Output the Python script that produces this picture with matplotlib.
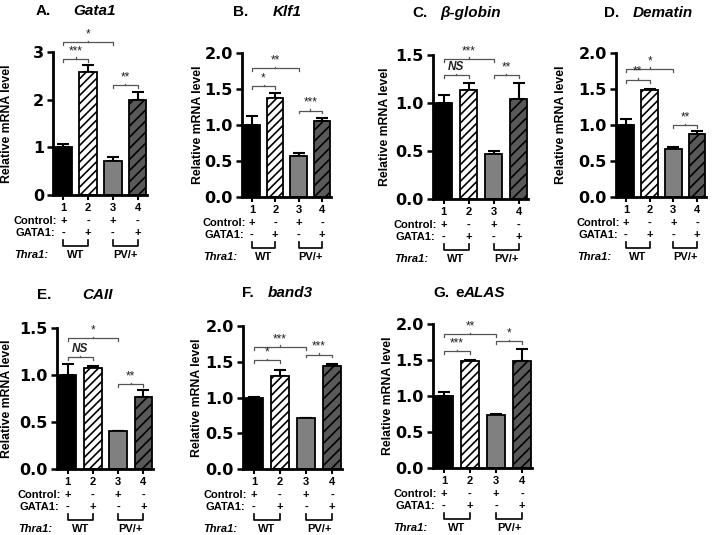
import numpy as np
import matplotlib
matplotlib.use('Agg')
import matplotlib.pyplot as plt

plt.rcParams['font.family'] = ['Liberation Sans', 'DejaVu Sans']
plt.rcParams['hatch.linewidth'] = 1.2

# values (bars 1-4: WT ctrl, WT GATA1, PV/+ ctrl, PV/+ GATA1)
gata1_mean = [1.0, 2.58, 0.72, 1.99]
gata1_err = [0.08, 0.14, 0.07, 0.17]
klf1_mean = [1.0, 1.37, 0.57, 1.06]
klf1_err = [0.12, 0.08, 0.04, 0.04]
bglob_mean = [1.0, 1.14, 0.47, 1.04]
bglob_err = [0.08, 0.07, 0.035, 0.17]
dematin_mean = [1.0, 1.49, 0.66, 0.88]
dematin_err = [0.09, 0.01, 0.03, 0.04]
caii_mean = [1.0, 1.07, 0.40, 0.77]
caii_err = [0.12, 0.03, 0.004, 0.07]
band3_mean = [1.0, 1.30, 0.71, 1.44]
band3_err = [0.01, 0.09, 0.0, 0.03]
alas_mean = [1.0, 1.49, 0.73, 1.48]
alas_err = [0.05, 0.01, 0.02, 0.17]

# significance brackets: (bar a, bar b, height, label)
gata1_sig = [(1, 3, 3.21, '*'), (1, 2, 2.86, '***'), (3, 4, 2.30, '**')]
klf1_sig = [(1, 3, 1.79, '**'), (1, 2, 1.54, '*'), (3, 4, 1.20, '***')]
bglob_sig = [(1, 3, 1.46, '***'), (1, 2, 1.29, 'NS'), (3, 4, 1.29, '**')]
dematin_sig = [(1, 3, 1.78, '*'), (1, 2, 1.63, '**'), (3, 4, 1.00, '**')]
caii_sig = [(1, 3, 1.39, '*'), (1, 2, 1.19, 'NS'), (3, 4, 0.90, '**')]
band3_sig = [(1, 3, 1.71, '***'), (1, 2, 1.52, '*'), (3, 4, 1.60, '***')]
alas_sig = [(1, 3, 1.86, '**'), (1, 2, 1.62, '***'), (3, 4, 1.76, '*')]

bar_pos = [1, 2, 3, 4]
tick_names = ['1', '2', '3', '4']
control_signs = ['+', '-', '+', '-']
gata1_signs = ['-', '+', '-', '+']
groups = ['WT', 'PV/+']

W, H = 716, 535
fig = plt.figure(figsize=(W / 100, H / 100), dpi=100)

# letter, gene, mean, err, sig, ymax, ystep, layout(left, top, bottom, width, ylabel offset), title(xletter, xgene, y)
panels = [
    ('A.', 'Gata1', gata1_mean, gata1_err, gata1_sig, 3, 1, (53, 52, 195, 94, 40), (36, 73, 11)),
    ('B.', 'Klf1', klf1_mean, klf1_err, klf1_sig, 2.0, 0.5, (242, 53, 197, 89, 38), (233, 273, 12)),
    ('C.', 'β-globin', bglob_mean, bglob_err, bglob_sig, 1.5, 0.5, (433, 55, 199, 95, 42), (412, 440, 13)),
    ('D.', 'Dematin', dematin_mean, dematin_err, dematin_sig, 2.0, 0.5, (616, 53, 197, 90, 49), (604, 633, 13)),
    ('E.', 'CAII', caii_mean, caii_err, caii_sig, 1.5, 0.5, (57, 328, 469, 96, 44), (37, 82, 295)),
    ('F.', 'band3', band3_mean, band3_err, band3_sig, 2.0, 0.5, (243, 326, 469, 99, 40), (242, 268, 293)),
    ('G.', 'ALAS', alas_mean, alas_err, alas_sig, 2.0, 0.5, (433, 324, 468, 99, 39), (433, 463, 293)),
]

colors = ['black', 'white', '#808080', '#595959']
hatches = [None, '////', None, '///']

for letter, gene, mean, err, sig, ymax, ystep, lay, tt in panels:
    left, top, bottom, width, yl_off = lay
    hpx = bottom - top
    ax = fig.add_axes([left / W, (H - bottom) / H, width / W, hpx / H])
    bars = ax.bar(bar_pos, mean, width=0.7, color=colors, edgecolor='black', linewidth=1.3, zorder=2)
    for b, h in zip(bars, hatches):
        if h:
            b.set_hatch(h)
    ax.errorbar(bar_pos, mean, yerr=[np.zeros(4), err], fmt='none', ecolor='black',
                elinewidth=1.5, capsize=4, capthick=1.5, zorder=1)
    ax.set_xlim(0.58, 4.38)
    ax.set_ylim(0, ymax)
    ticks = np.arange(0, ymax + ystep / 2, ystep)
    ax.set_yticks(ticks)
    if ystep == 1:
        ax.set_yticklabels([f'{v:g}' for v in ticks])
    else:
        ax.set_yticklabels([f'{v:.1f}' for v in ticks])
    for lab in ax.get_yticklabels():
        lab.set_family('DejaVu Sans')
        lab.set_fontweight('bold')
        lab.set_fontsize(11.5)
    ax.set_xticks(bar_pos)
    ax.set_xticklabels(tick_names, fontsize=8, fontweight='bold')
    ax.tick_params(axis='y', width=1.8, length=4, pad=2.5)
    ax.tick_params(axis='x', width=1.5, length=3.5, pad=2)
    for s in ['top', 'right']:
        ax.spines[s].set_visible(False)
    for s in ['left', 'bottom']:
        ax.spines[s].set_linewidth(2)
    ax.set_ylabel('Relative mRNA level', fontsize=8.8, fontweight='bold')
    ax.yaxis.set_label_coords(-yl_off / width, 0.5)

    # significance brackets
    d = 0.02 * ymax
    for a, b, y, lab in sig:
        ax.plot([a, a, b, b], [y - d, y, y, y - d], color='#555555', lw=0.9, clip_on=False)
        ax.plot([(a + b) / 2] * 2, [y, y + d * 0.5], color='#555555', lw=0.9, clip_on=False)
        style = 'italic' if lab == 'NS' else 'normal'
        ax.text((a + b) / 2, y + 0.012 * ymax, lab, ha='center', va='bottom', fontsize=8.5,
                fontweight='bold' if lab == 'NS' else 'normal', style=style, color='#222222')

    # treatment table under the axis
    tr = ax.get_xaxis_transform()
    def below(px):
        return -px / hpx
    for x, c, g in zip(bar_pos, control_signs, gata1_signs):
        ax.text(x, below(26), c, transform=tr, ha='center', va='center', fontsize=8, fontweight='bold')
        ax.text(x, below(38), g, transform=tr, ha='center', va='center', fontsize=8, fontweight='bold')
    xr = 1 - 6.5 / 25
    ax.text(xr, below(26), 'Control:', transform=tr, ha='right', va='center', fontsize=8, fontweight='bold')
    ax.text(xr - 0.06, below(38), 'GATA1:', transform=tr, ha='right', va='center', fontsize=8, fontweight='bold')
    ax.text(1 - 15.5 / 25, below(60), 'Thra1:', transform=tr, ha='right', va='center', fontsize=8,
            fontweight='bold', style='italic')
    for (a, b), gname in zip([(1, 2), (3, 4)], groups):
        ax.plot([a, a, b, b], [below(45), below(51), below(51), below(45)], transform=tr,
                color='black', lw=1.2, clip_on=False)
        ax.text((a + b) / 2, below(60), gname, transform=tr, ha='center', va='center',
                fontsize=8, fontweight='bold')

    # panel title
    xl, xg, ty = tt
    fig.text(xl / W, 1 - ty / H, letter, ha='left', va='center', fontsize=11, fontweight='bold')
    if letter == 'G.':
        fig.text((xg - 8) / W, 1 - ty / H, 'e', ha='left', va='center', fontsize=11, fontweight='bold')
    fig.text(xg / W, 1 - ty / H, gene, ha='left', va='center', fontsize=11, fontweight='bold', style='italic')

fig.savefig('out.png', dpi=100)
